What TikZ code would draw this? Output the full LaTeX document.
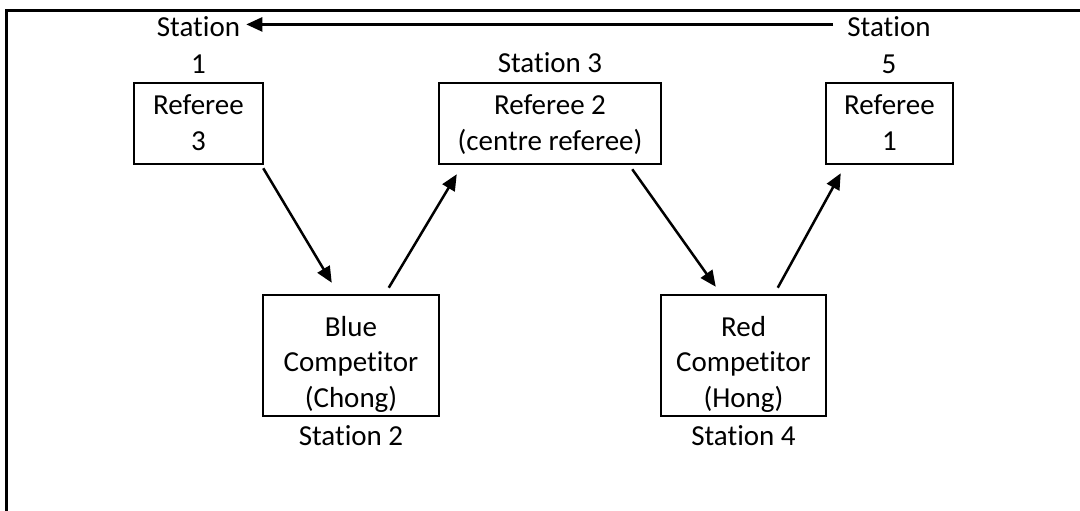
\documentclass[tikz,border=0pt]{standalone}
\usepackage{fontspec}
\setmainfont{Carlito}[Ligatures=NoCommon]
\usetikzlibrary{arrows.meta,calc}
\begin{document}
\begin{tikzpicture}[x=1pt,y=-1pt,
  box/.style={draw,line width=2.5pt,inner sep=0pt},
  txt/.style={align=center,inner sep=0pt,font=\fontsize{29}{35.5}\selectfont},
  arr/.style={line width=2.5pt,-{Triangle[length=16pt,width=14pt]}}]
\useasboundingbox (0,0) rectangle (1080,511);
% page frame (only the top and left edges fall inside the page)
\begin{scope}
  \clip (0,0) rectangle (1080,511);
  \draw[line width=3pt] (6.5,530) -- (6.5,10.5) -- (1100,10.5);
\end{scope}

% referee boxes
\node[box,minimum width=129,minimum height=81] (ref3) at (198.5,123.5) {};
\node[box,minimum width=222,minimum height=81] (ref2) at (550,123.5) {};
\node[box,minimum width=127,minimum height=81] (ref1) at (889.5,123.5) {};
% competitor boxes
\node[box,minimum width=176,minimum height=121] (blue) at (351,355.5) {};
\node[box,minimum width=165,minimum height=121] (red) at (743.5,355.5) {};

% box texts (base anchor = baseline of the last line)
\node[txt,anchor=base] (ref3t) at (198.5,150) {Referee\\3};
\node[txt,anchor=base] (ref2t) at (550,150) {Referee 2\\(centre referee)};
\node[txt,anchor=base] (ref1t) at (889.5,150) {Referee\\1};
\node[txt,anchor=base] (bluet) at (351,407) {Blue\\Competitor\\(Chong)};
\node[txt,anchor=base] (redt) at (743.5,407) {Red\\Competitor\\(Hong)};

% station labels
\node[txt,anchor=base] (st1) at (198.5,37) {Station};
\node[txt,anchor=base] (st1n) at (198.5,74) {1};
\node[txt,anchor=base] (st5) at (889,37) {Station};
\node[txt,anchor=base] (st5n) at (889,74) {5};
\node[txt,anchor=base] (st3) at (550,73) {Station 3};
\node[txt,anchor=base] (st2) at (351,445) {Station 2};
\node[txt,anchor=base] (st4) at (743.5,445) {Station 4};

% rotation arrows
\draw[arr] ($(st5.west)+(-14,-2.7)$) -- ($(st1.east)+(6,-2.7)$);
\draw[arr] ($(ref3.south east)+(-1,3)$) -- ($(blue.north west)+(70,-11)$);
\draw[arr] ($(blue.north west)+(127,-6)$) -- ($(ref2.south west)+(19,9)$);
\draw[arr] ($(ref2.south east)+(-30,4)$) -- ($(red.north west)+(56,-7)$);
\draw[arr] ($(red.north west)+(118,-6)$) -- ($(ref1.south west)+(16,8)$);
\end{tikzpicture}
\end{document}
